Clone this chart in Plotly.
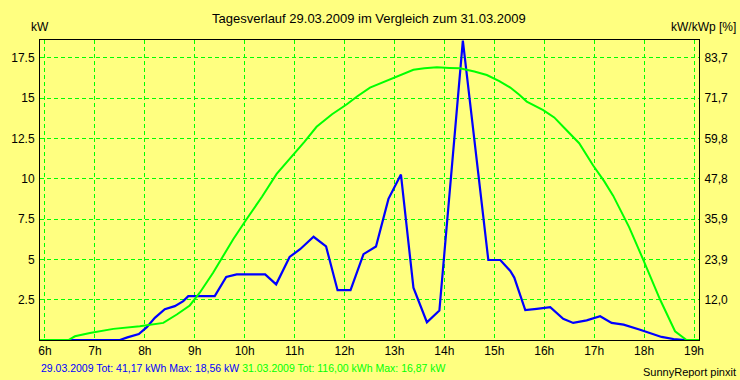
import plotly.graph_objects as go

# ---- data ----
hours_blue = [5.9, 7.5, 7.65, 7.88, 8.04, 8.2, 8.4, 8.6, 8.77, 8.87, 9.4, 9.63, 9.84,
              10.41, 10.63, 10.9, 11.11, 11.38, 11.63, 11.86, 12.12, 12.38, 12.63,
              12.88, 13.13, 13.38, 13.65, 13.9, 14.37, 14.88, 15.12, 15.32, 15.4,
              15.62, 15.85, 16.12, 16.38, 16.58, 16.85, 17.12, 17.35, 17.59, 17.92,
              18.35, 18.59, 18.82]
kw_blue = [0, 0, 0.16, 0.37, 0.8, 1.37, 1.91, 2.1, 2.41, 2.72, 2.72, 3.91, 4.07,
           4.07, 3.45, 5.15, 5.63, 6.4, 5.8, 3.09, 3.09, 5.32, 5.8,
           8.75, 10.26, 3.24, 1.1, 1.83, 18.56, 4.96, 4.96, 4.28, 3.87,
           1.85, 1.93, 2.03, 1.31, 1.06, 1.22, 1.47, 1.06, 0.95, 0.64,
           0.19, 0.06, 0]

hours_green = [5.9, 6.47, 6.6, 6.9, 7.37, 7.9, 8.37, 8.64, 8.9, 9.1, 9.37, 9.77,
               10.04, 10.35, 10.64, 10.91, 11.2, 11.44, 11.75, 12.04, 12.25, 12.51,
               12.75, 12.98, 13.2, 13.38, 13.6, 13.85, 14.1, 14.31, 14.6, 14.85,
               15.1, 15.32, 15.5, 15.65, 15.98, 16.2, 16.38, 16.7, 16.98, 17.2,
               17.38, 17.7, 17.98, 18.15, 18.32, 18.62, 18.85, 19.1]
kw_green = [0, 0, 0.23, 0.44, 0.69, 0.85, 1.06, 1.58, 2.14, 2.93, 4.18, 6.25,
            7.5, 8.9, 10.3, 11.24, 12.3, 13.22, 14.0, 14.6, 15.1, 15.65,
            15.95, 16.27, 16.55, 16.75, 16.85, 16.91, 16.87, 16.85, 16.65, 16.43,
            16.05, 15.65, 15.2, 14.78, 14.25, 13.8, 13.22, 12.2, 10.82, 9.85,
            8.95, 7.0, 5.0, 3.75, 2.51, 0.54, 0, 0]

x_tick_vals = [6, 7, 8, 9, 10, 11, 12, 13, 14, 15, 16, 17, 18, 19]
x_tick_labels = ["6h", "7h", "8h", "9h", "10h", "11h", "12h", "13h", "14h",
                 "15h", "16h", "17h", "18h", "19h"]
y_tick_vals = [2.5, 5, 7.5, 10, 12.5, 15, 17.5]
y_left_labels = ["2.5", "5", "7.5", "10", "12.5", "15", "17.5"]
y_right_labels = ["12,0", "23,9", "35,9", "47,8", "59,8", "71,7", "83,7"]

title_text = "Tagesverlauf 29.03.2009 im Vergleich zum 31.03.2009"
blue_info = "29.03.2009 Tot: 41,17 kWh Max: 18,56 kW"
green_info = "31.03.2009 Tot: 116,00 kWh Max: 16,87 kW"

BG = "#FFFF80"
GRID = "#00FF00"
FONT = "Liberation Sans"

fig = go.Figure()
fig.add_trace(go.Scatter(x=hours_green, y=kw_green, mode="lines",
                         line=dict(color="#00FF00", width=2), yaxis="y2",
                         showlegend=False))
fig.add_trace(go.Scatter(x=hours_blue, y=kw_blue, mode="lines",
                         line=dict(color="#0000FF", width=2.2),
                         showlegend=False, cliponaxis=True))

axis_common = dict(showline=True, linecolor="black", linewidth=1,
                   zeroline=False, ticks="",
                   tickfont=dict(family=FONT, size=12, color="black"))

fig.update_layout(
    width=740, height=380,
    margin=dict(l=40, r=41, t=40, b=40),
    paper_bgcolor=BG, plot_bgcolor=BG,
    font=dict(family=FONT, size=12, color="black"),
    xaxis=dict(range=[5.9, 19.1], tickvals=x_tick_vals, ticktext=x_tick_labels,
               showgrid=True, gridcolor=GRID, griddash="4px,3px", gridwidth=1,
               mirror=True, **axis_common),
    yaxis=dict(range=[0, 18.6], tickvals=y_tick_vals, ticktext=y_left_labels,
               showgrid=True, gridcolor=GRID, griddash="4px,3px", gridwidth=1,
               mirror=True, ticklabelstandoff=2, **axis_common),
    yaxis2=dict(range=[0, 18.6], tickvals=y_tick_vals, ticktext=y_right_labels,
                overlaying="y", side="right", showgrid=False,
                ticklabelstandoff=2, **axis_common),
)

PW, PH = 659.0, 300.0


def px(xp):
    return (xp - 40) / PW


def py(yp):
    return (340 - yp) / PH


annots = [
    dict(text=title_text, x=px(369), y=py(19), xanchor="center", yanchor="middle",
         font=dict(size=13, color="black")),
    dict(text="kW", x=px(40), y=py(27), xanchor="center", yanchor="middle",
         font=dict(size=12, color="black")),
    dict(text="kW/kWp [%]", x=px(738), y=py(27), xanchor="right", yanchor="middle",
         font=dict(size=12, color="black")),
    dict(text=f"<span style='color:#0000FF'>{blue_info}</span> "
              f"<span style='color:#00FF00'>{green_info}</span>",
         x=px(39), y=py(368), xanchor="left", yanchor="middle",
         font=dict(size=10.5)),
    dict(text="SunnyReport pinxit", x=px(738), y=py(372), xanchor="right",
         yanchor="middle", font=dict(size=11, color="black")),
]
for a in annots:
    a.update(xref="paper", yref="paper", showarrow=False)
    fig.add_annotation(**a)

fig.write_html(
    "out.html",
    config={"displayModeBar": False},
    post_script="document.body.style.margin='0px';"
                "document.body.style.overflow='hidden';"
                "document.body.style.background='" + BG + "';",
)
